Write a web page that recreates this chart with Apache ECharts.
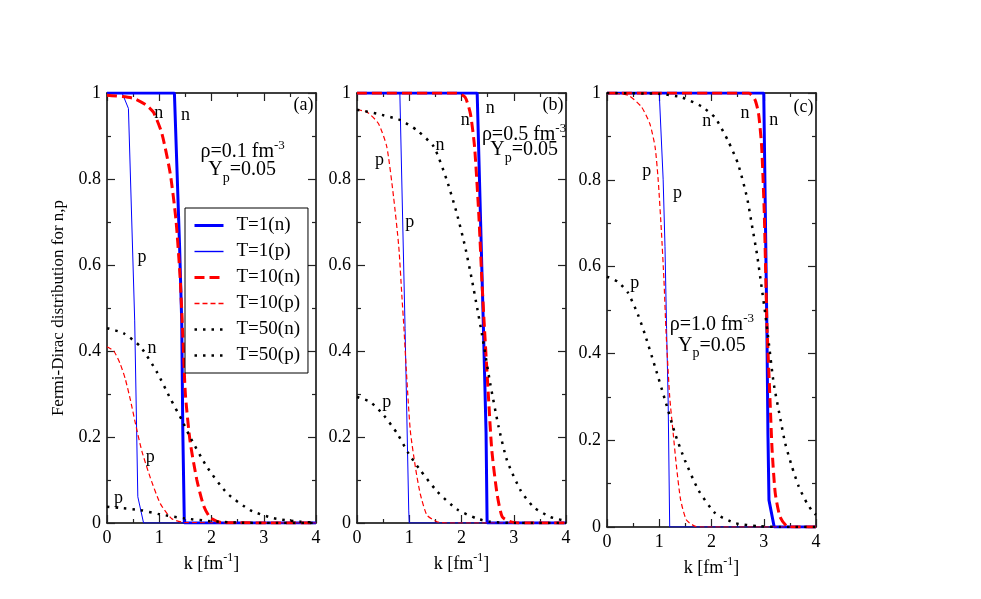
<!DOCTYPE html>
<html>
<head>
<meta charset="utf-8">
<script src="https://cdn.jsdelivr.net/npm/echarts@6/dist/echarts.min.js"></script>
<style>
  html, body { margin: 0; background: #fff; }
  #chart { width: 981px; height: 599px; }
</style>
</head>
<body>
<div id="chart"></div>
<script>
// tick labels
const xTicks = ["0", "1", "2", "3", "4"];
const yTicks = ["0", "0.2", "0.4", "0.6", "0.8", "1"];
const names = ["T=1(n)", "T=1(p)", "T=10(n)", "T=10(p)", "T=50(n)", "T=50(p)"];

// panel (a) rho = 0.1 fm^-3, [k, f]
const aT1n = [[0, 1], [1.29, 1], [1.39, 0.64], [1.43, 0.47], [1.45, 0.22], [1.48, 0], [4, 0]];
const aT1p = [[0, 1], [0.29, 1], [0.41, 0.964], [0.53, 0.47], [0.59, 0.061], [0.7, 0], [4, 0]];
const aT10n = [[0, 0.995], [0.5, 0.988], [0.75, 0.972], [0.89, 0.955], [1.05, 0.906], [1.21, 0.813], [1.32, 0.705], [1.4, 0.57], [1.45, 0.44], [1.5, 0.3], [1.59, 0.19], [1.72, 0.1], [1.85, 0.04], [1.98, 0.012], [2.2, 0.001], [4, 0]];
const aT10p = [[0, 0.41], [0.13, 0.4], [0.25, 0.371], [0.35, 0.335], [0.45, 0.285], [0.55, 0.228], [0.67, 0.166], [0.83, 0.105], [1.02, 0.045], [1.24, 0.01], [1.5, 0.001], [4, 0]];
const aT50n = [[0, 0.453], [0.32, 0.441], [0.64, 0.41], [0.96, 0.35], [1.21, 0.29], [1.43, 0.24], [1.59, 0.2], [1.91, 0.131], [2.3, 0.069], [2.74, 0.03], [3.19, 0.011], [3.7, 0.003], [4, 0.001]];
const aT50p = [[0, 0.038], [0.25, 0.035], [0.64, 0.03], [1.02, 0.02], [1.47, 0.011], [2, 0.004], [2.5, 0.001], [3, 0], [4, 0]];

// panel (b) rho = 0.5 fm^-3
const bT1n = [[0, 1], [2.3, 1], [2.42, 0.452], [2.47, 0.21], [2.49, 0], [4, 0]];
const bT1p = [[0, 1], [0.82, 1], [0.92, 0.452], [0.99, 0.03], [1.0, 0], [4, 0]];
const bT10n = [[0, 1], [1.91, 1], [2.07, 0.99], [2.17, 0.952], [2.25, 0.875], [2.33, 0.72], [2.39, 0.565], [2.44, 0.452], [2.52, 0.285], [2.58, 0.169], [2.68, 0.068], [2.78, 0.014], [2.93, 0.003], [3.1, 0], [4, 0]];
const bT10p = [[0, 0.961], [0.19, 0.956], [0.41, 0.929], [0.57, 0.875], [0.7, 0.758], [0.8, 0.642], [0.86, 0.526], [0.9, 0.45], [0.94, 0.363], [1.02, 0.215], [1.12, 0.128], [1.21, 0.068], [1.34, 0.018], [1.53, 0.003], [1.7, 0], [4, 0]];
const bT50n = [[0, 0.961], [0.38, 0.952], [0.83, 0.937], [1.15, 0.913], [1.47, 0.875], [1.72, 0.797], [1.91, 0.72], [2.07, 0.642], [2.2, 0.565], [2.3, 0.5], [2.39, 0.44], [2.55, 0.324], [2.71, 0.224], [2.87, 0.146], [3.13, 0.076], [3.38, 0.037], [3.7, 0.014], [3.95, 0.006], [4, 0.005]];
const bT50p = [[0, 0.293], [0.25, 0.282], [0.51, 0.251], [0.77, 0.208], [0.99, 0.161], [1.21, 0.123], [1.53, 0.074], [1.91, 0.032], [2.3, 0.01], [2.55, 0.003], [3, 0], [4, 0]];

// panel (c) rho = 1.0 fm^-3
const cT1n = [[0, 1], [3.0, 1], [3.06, 0.458], [3.08, 0.216], [3.1, 0.062], [3.2, 0], [4, 0]];
const cT1p = [[0, 1], [1.0, 1], [1.075, 0.8], [1.11, 0.646], [1.14, 0.458], [1.17, 0.293], [1.2, 0], [4, 0]];
const cT10n = [[0, 1], [2.71, 1], [2.83, 0.985], [2.9, 0.953], [2.96, 0.876], [3.01, 0.723], [3.04, 0.569], [3.06, 0.47], [3.08, 0.408], [3.12, 0.293], [3.16, 0.177], [3.22, 0.078], [3.31, 0.024], [3.44, 0.002], [3.6, 0], [4, 0]];
const cT10p = [[0, 1], [0.4, 0.995], [0.66, 0.968], [0.82, 0.929], [0.92, 0.876], [0.98, 0.799], [1.04, 0.684], [1.09, 0.569], [1.13, 0.45], [1.2, 0.3], [1.27, 0.212], [1.33, 0.139], [1.41, 0.062], [1.52, 0.016], [1.68, 0.002], [1.8, 0], [4, 0]];
const cT50n = [[0, 1], [1.0, 0.998], [1.43, 0.99], [1.81, 0.969], [2.07, 0.943], [2.32, 0.889], [2.51, 0.836], [2.68, 0.759], [2.77, 0.698], [2.87, 0.629], [2.96, 0.552], [3.03, 0.49], [3.09, 0.431], [3.19, 0.331], [3.31, 0.254], [3.41, 0.193], [3.54, 0.139], [3.67, 0.093], [3.83, 0.054], [3.96, 0.032], [4, 0.028]];
const cT50p = [[0, 0.577], [0.21, 0.565], [0.4, 0.54], [0.59, 0.49], [0.72, 0.446], [0.92, 0.369], [1.11, 0.293], [1.3, 0.216], [1.49, 0.154], [1.75, 0.085], [2.07, 0.032], [2.45, 0.009], [2.9, 0.002], [3.3, 0], [4, 0]];

// text annotations: [k, f, text, align]
const annA = [[0.99, 0.952, "n"], [1.5, 0.948, "n"], [0.67, 0.619, "p"], [0.86, 0.406, "n"], [0.83, 0.153, "p"], [0.22, 0.057, "p"],
  [1.79, 0.867, "{m|ρ=0.1 fm}{s|-3}", "left"], [1.94, 0.815, "{t|Y}{b|p}{t|=0.05}", "left"], [3.95, 0.972, "(a)", "right"]];
const annB = [[2.55, 0.964, "n"], [2.07, 0.937, "n"], [1.59, 0.878, "n"], [0.43, 0.843, "p"], [1.01, 0.7, "p"], [0.57, 0.281, "p"],
  [2.39, 0.906, "{m|ρ=0.5 fm}{s|-3}", "left"], [2.55, 0.862, "{t|Y}{b|p}{t|=0.05}", "left"], [3.95, 0.972, "(b)", "right"]];
const annC = [[1.91, 0.934, "n"], [2.64, 0.953, "n"], [3.19, 0.938, "n"], [0.76, 0.819, "p"], [1.35, 0.769, "p"], [0.53, 0.562, "p"],
  [1.2, 0.469, "{m|ρ=1.0 fm}{s|-3}", "left"], [1.36, 0.412, "{t|Y}{b|p}{t|=0.05}", "left"], [3.95, 0.968, "(c)", "right"]];

const FONT = '"Liberation Serif", "DejaVu Serif", serif';
const panels = [
  { grid: { left: 107, top: 93, width: 209, height: 430 }, data: [aT1n, aT1p, aT10n, aT10p, aT50n, aT50p], ann: annA },
  { grid: { left: 357, top: 93, width: 209, height: 430 }, data: [bT1n, bT1p, bT10n, bT10p, bT50n, bT50p], ann: annB },
  { grid: { left: 607, top: 93, width: 209, height: 434 }, data: [cT1n, cT1p, cT10n, cT10p, cT50n, cT50p], ann: annC }
];
const styles = [
  { color: "#0000ff", width: 3, type: "solid", smooth: false },
  { color: "#0000ff", width: 1, type: "solid", smooth: false },
  { color: "#ff0000", width: 3, type: [10, 5], smooth: 0.2 },
  { color: "#ff0000", width: 1.2, type: [5, 3], smooth: 0.2 },
  { color: "#000000", width: 2.5, type: [2.5, 6], smooth: 0.2 },
  { color: "#000000", width: 2.5, type: [2.5, 6], smooth: 0.2 }
];

const tickStyle = { color: "#222", width: 1.2 };
function axisCommon(min, max, interval) {
  return {
    type: "value", min, max, interval,
    axisLine: { show: true, onZero: false, lineStyle: { color: "#000", width: 1.5 } },
    axisTick: { show: true, inside: true, length: 8, lineStyle: tickStyle },
    minorTick: { show: true, splitNumber: 2, length: 4, lineStyle: tickStyle },
    splitLine: { show: false },
    minorSplitLine: { show: false }
  };
}
const labelFont = { fontFamily: FONT, fontSize: 18, color: "#000" };
const subRich = {
  m: { fontFamily: FONT, fontSize: 20, verticalAlign: "bottom" },
  s: { fontFamily: FONT, fontSize: 13, verticalAlign: "bottom", padding: [0, 0, 10, 0] },
  t: { fontFamily: FONT, fontSize: 20, verticalAlign: "top" },
  b: { fontFamily: FONT, fontSize: 14, verticalAlign: "top", padding: [11, 0, 0, 0] }
};
const nameRich = {
  m: { fontFamily: FONT, fontSize: 18, verticalAlign: "bottom" },
  s: { fontFamily: FONT, fontSize: 12, verticalAlign: "bottom", padding: [0, 0, 9, 0] }
};

const xAxes = [], yAxes = [], series = [];
panels.forEach((p, i) => {
  xAxes.push(Object.assign(axisCommon(0, 4, 1), {
    gridIndex: i, position: "bottom",
    axisLabel: Object.assign({ margin: 6, formatter: (v) => xTicks[Math.round(v)] }, labelFont),
    name: "{m|k [fm}{s|-1}{m|]}", nameLocation: "middle", nameGap: 24,
    nameTextStyle: { color: "#000", rich: nameRich }
  }));
  yAxes.push(Object.assign(axisCommon(0, 1, 0.2), {
    gridIndex: i, position: "left",
    axisLabel: Object.assign({ margin: 6, formatter: (v) => yTicks[Math.round(v * 5)] }, labelFont),
    name: i === 0 ? "Fermi-Dirac distribution for n,p" : "",
    nameLocation: "middle", nameGap: 40, nameRotate: 90,
    nameTextStyle: { fontFamily: FONT, fontSize: 17, color: "#000" }
  }));
});
panels.forEach((p, i) => {
  xAxes.push(Object.assign(axisCommon(0, 4, 1), { gridIndex: i, position: "top", axisLabel: { show: false } }));
  yAxes.push(Object.assign(axisCommon(0, 1, 0.2), { gridIndex: i, position: "right", axisLabel: { show: false } }));
  p.data.forEach((d, j) => {
    const s = styles[j];
    series.push({
      type: "line", name: names[j], xAxisIndex: i, yAxisIndex: i, data: d,
      showSymbol: false, symbol: "none", smooth: s.smooth,
      lineStyle: { color: s.color, width: s.width, type: s.type },
      itemStyle: { color: s.color }, animation: false, silent: true
    });
  });
});

const chart = echarts.init(document.getElementById("chart"));
chart.setOption({
  backgroundColor: "#fff",
  animation: false,
  grid: panels.map((p) => p.grid),
  xAxis: xAxes,
  yAxis: yAxes,
  legend: {
    data: names.map((name, j) => ({
      name,
      lineStyle: { color: styles[j].color, width: Math.max(styles[j].width, 1.4), type: styles[j].type }
    })),
    orient: "vertical", left: 185, top: 208,
    itemWidth: 29, itemHeight: 14, itemGap: 7, padding: [8, 8, 8, 8],
    backgroundColor: "#fff", borderColor: "#000", borderWidth: 1,
    itemStyle: { opacity: 0 },
    textStyle: { fontFamily: FONT, fontSize: 19, color: "#000", padding: [0, 0, 0, 8] }
  },
  series
});

const graphics = [];
panels.forEach((p, i) => {
  p.ann.forEach(([k, v, text, align]) => {
    const [x, y] = chart.convertToPixel({ gridIndex: i }, [k, v]);
    graphics.push({
      type: "text", x, y, z: 100,
      style: { text, rich: subRich, fontFamily: FONT, fontSize: 18, fill: "#000", align: align || "center", verticalAlign: "middle" }
    });
  });
});
chart.setOption({ graphic: graphics });
</script>
</body>
</html>
